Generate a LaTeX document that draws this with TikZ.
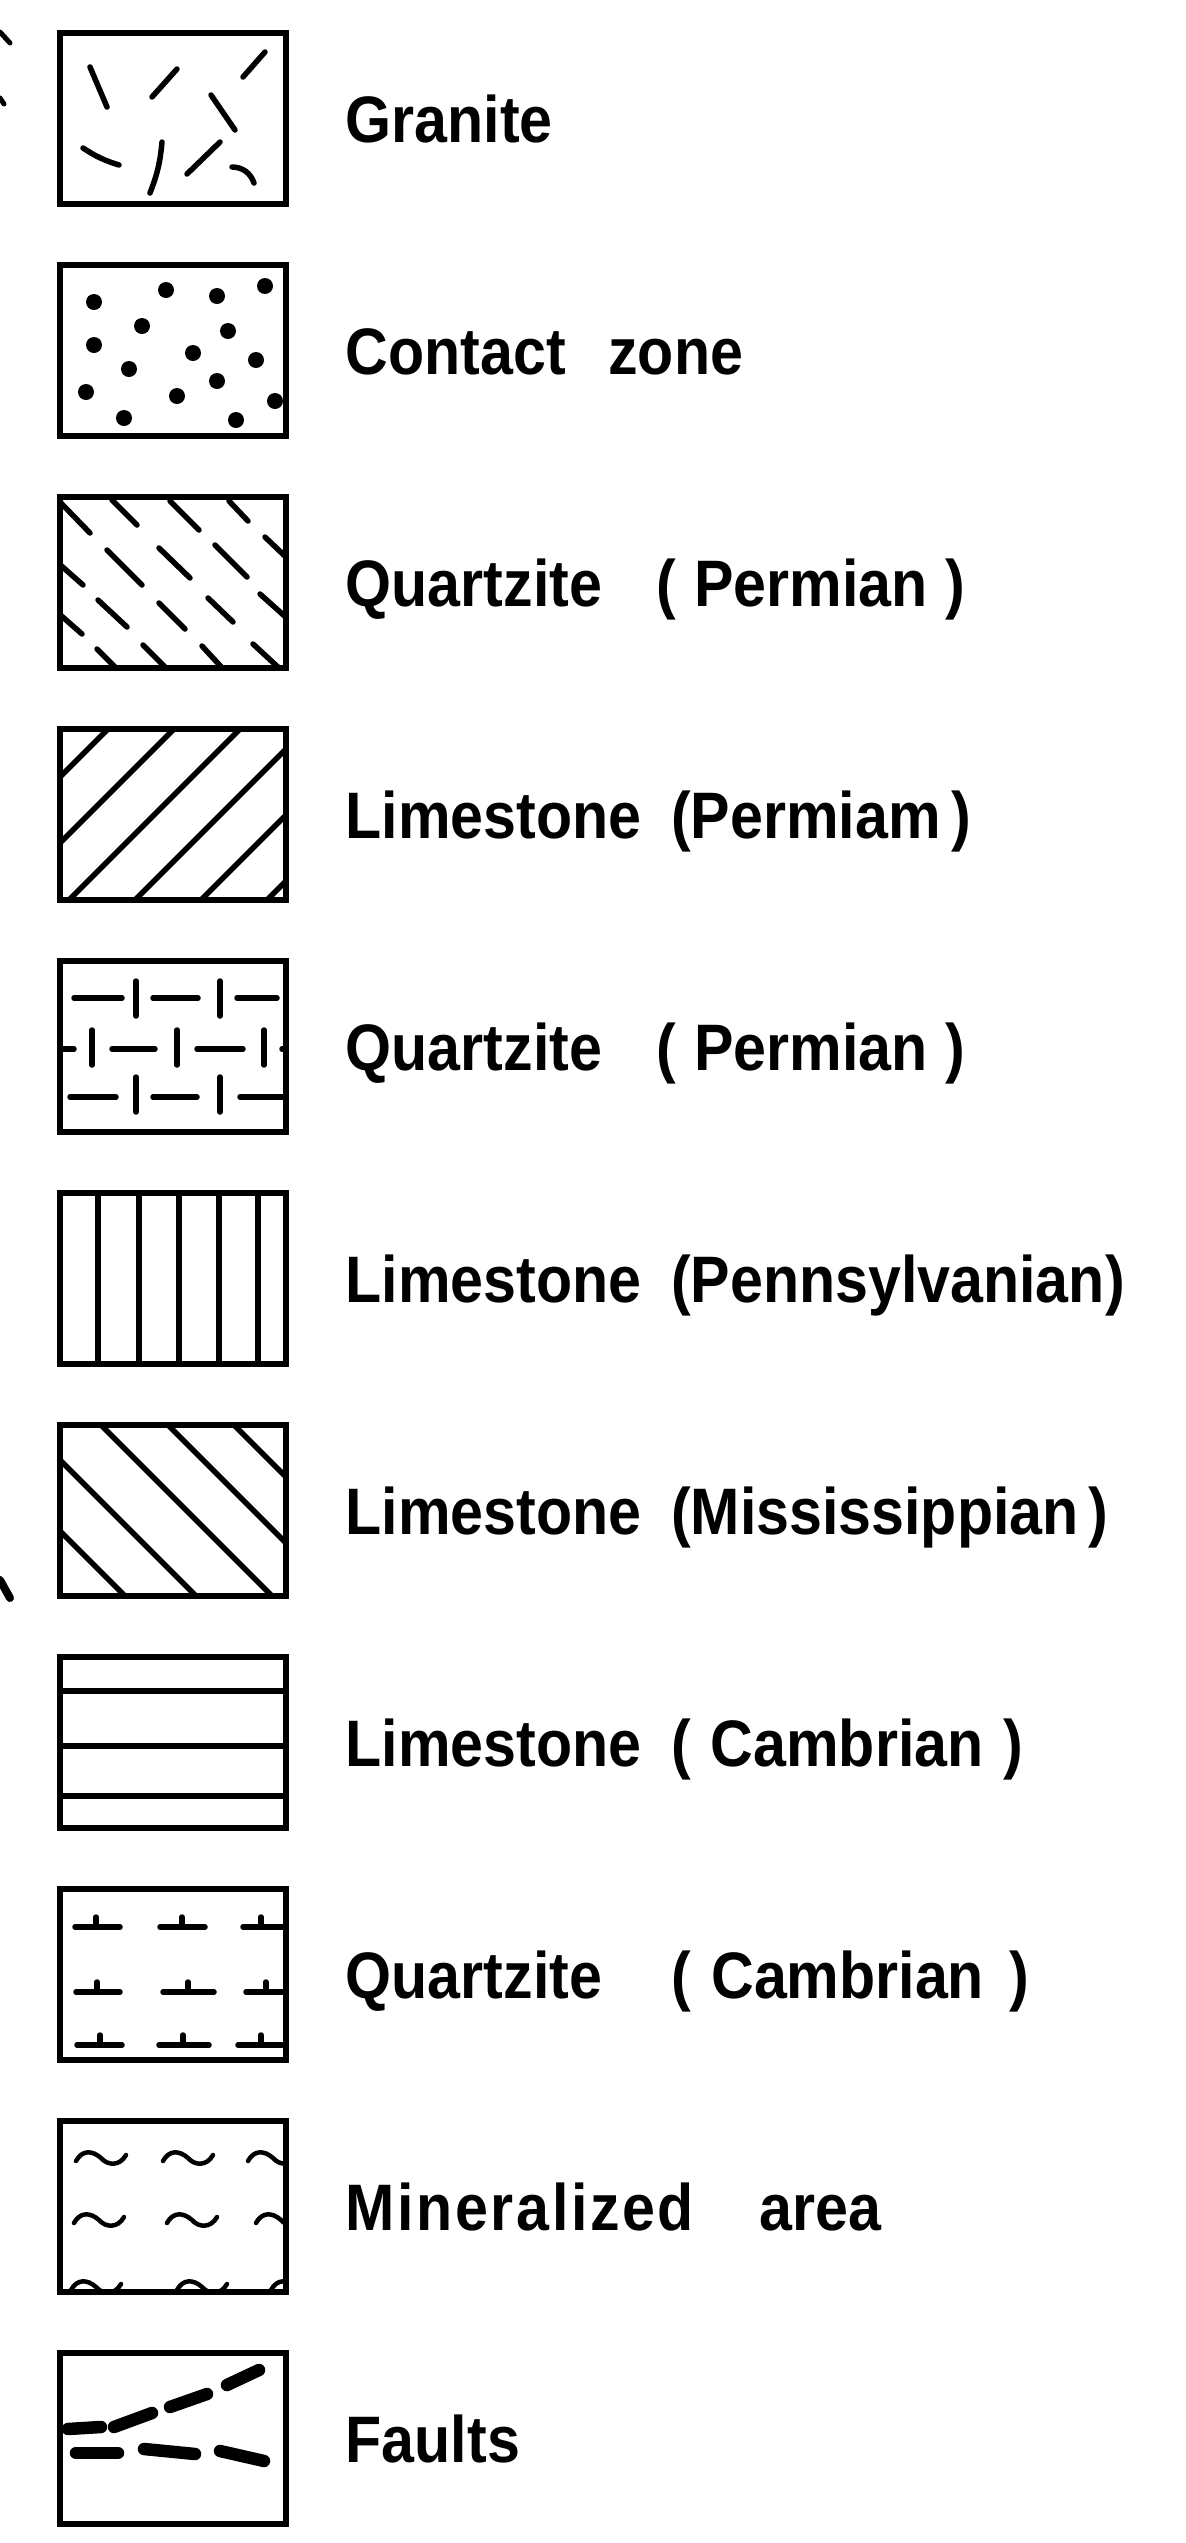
\documentclass[tikz,border=0pt]{standalone}
\usepackage{fontspec}
\setmainfont{Liberation Sans}[FakeStretch=0.9,WordSpace=1.8]
\usetikzlibrary{positioning}

\tikzset{
  swatch/.style={draw, line width=0.6mm, outer sep=0.3mm, inner sep=0pt,
    minimum width=22.6mm, minimum height=17.1mm},
  rocktext/.style={font=\fontsize{18.7pt}{20pt}\selectfont\bfseries,
    inner sep=0pt, text height=4.7mm, text depth=0pt, anchor=west},
  hatch/.style={line width=0.55mm, line cap=round},
}
\newcommand{\gap}[1]{\hspace*{#1}}

\begin{document}
\begin{tikzpicture}[x=0.1mm, y=-0.1mm]
\useasboundingbox (0,0) rectangle (1186,2543);

% swatches
\node[swatch] (b1) at (173,118.5) {};
\node[swatch, below=5.5mm of b1] (b2) {};
\node[swatch, below=5.5mm of b2] (b3) {};
\node[swatch, below=5.5mm of b3] (b4) {};
\node[swatch, below=5.5mm of b4] (b5) {};
\node[swatch, below=5.5mm of b5] (b6) {};
\node[swatch, below=5.5mm of b6] (b7) {};
\node[swatch, below=5.5mm of b7] (b8) {};
\node[swatch, below=5.5mm of b8] (b9) {};
\node[swatch, below=5.5mm of b9] (b10) {};
\node[swatch, below=5.5mm of b10] (b11) {};

% labels
\node[rocktext, right=5.6mm of b1] (t1) {Granite};
\node[rocktext, right=5.6mm of b2] (t2) {Contact\gap{1.3mm} zone};
\node[rocktext, right=5.6mm of b3] (t3) {Quartzite\gap{2.5mm} (\gap{1.8mm}Permian\gap{1.8mm})};
\node[rocktext, right=5.6mm of b4] (t4) {Limestone (Permiam\gap{1.1mm})};
\node[rocktext, right=5.6mm of b5] (t5) {Quartzite\gap{2.5mm} (\gap{1.8mm}Permian\gap{1.8mm})};
\node[rocktext, right=5.6mm of b6] (t6) {Limestone (Pennsylvanian)};
\node[rocktext, right=5.6mm of b7] (t7) {Limestone (Mississippian\gap{1mm})};
\node[rocktext, right=5.6mm of b8] (t8) {Limestone (\gap{2mm}Cambrian\gap{2mm})};
\node[rocktext, right=5.6mm of b9] (t9) {Quartzite\gap{4mm} (\gap{2mm}Cambrian\gap{2.5mm})};
\node[rocktext, right=5.6mm of b10] (t10) {{\addfontfeature{LetterSpace=4}Mineralized}\gap{3.6mm} area};
\node[rocktext, right=5.6mm of b11] (t11) {Faults};

% granite
\begin{scope}[shift={(b1.north west)}, hatch]
\draw (33,37) -- (50,77);
\draw (95,67) -- (120,39);
\draw (186,47) -- (208,22);
\draw (154,65) -- (178,100);
\draw (26,118) to[bend right=8] (62,135);
\draw (105,112) to[bend left=8] (93,163);
\draw (130,144) -- (163,112);
\draw (175,137) to[bend left=35] (197,153);
\end{scope}

% contact zone
\begin{scope}[shift={(b2.north west)}]
\foreach \p in {(37,40),(109,28),(160,34),(208,24),(85,64),(171,69),
    (37,83),(136,91),(199,98),(72,107),(160,119),(29,130),(120,134),
    (218,139),(67,156),(179,158)}
  \fill \p circle (0.8mm);
\end{scope}

% quartzite, permian
\begin{scope}[shift={(b3.north west)}, hatch]
\clip (3,3) rectangle (229,174);
\draw (1,6) -- (33,39);
\draw (55,6) -- (80,31);
\draw (113,7) -- (142,36);
\draw (172,7) -- (191,27);
\draw (208,43) -- (232,66);
\draw (50,56) -- (85,91);
\draw (102,54) -- (133,84);
\draw (158,51) -- (190,83);
\draw (0,68) -- (26,91);
\draw (203,100) -- (232,126);
\draw (41,106) -- (70,133);
\draw (102,109) -- (128,135);
\draw (151,104) -- (176,128);
\draw (0,118) -- (25,140);
\draw (40,155) -- (62,177);
\draw (86,151) -- (112,177);
\draw (145,152) -- (168,177);
\draw (196,150) -- (222,174);
\end{scope}

% limestone, permiam
\begin{scope}[shift={(b4.north west)}, hatch]
\clip (3,3) rectangle (229,174);
\foreach \c in {54,120,186,252,318,384}
  \draw (\c+60,-60) -- (-60,\c+60);
\end{scope}

% quartzite, permian (second)
\begin{scope}[shift={(b5.north west)}, hatch]
\clip (3,3) rectangle (229,174);
\foreach \a/\b in {17/65,96/141,180/220}
  \draw (\a,40) -- (\b,40);
\foreach \a/\b in {13/59,96/140,183/227}
  \draw (\a,139) -- (\b,139);
\foreach \a/\b in {-5/17,55/98,140/186,225/240}
  \draw (\a,91) -- (\b,91);
\foreach \x in {79,163} {
  \draw (\x,23) -- (\x,58);
  \draw (\x,119) -- (\x,154);
}
\foreach \x in {35,120,207}
  \draw (\x,72) -- (\x,107);
\end{scope}

% limestone, pennsylvanian
\begin{scope}[shift={(b6.north west)}, hatch]
\foreach \x in {41,82,122,162,201}
  \draw (\x,3) -- (\x,174);
\end{scope}

% limestone, mississippian
\begin{scope}[shift={(b7.north west)}, hatch]
\clip (3,3) rectangle (229,174);
\foreach \c in {106,35,-41,-108,-174}
  \draw (-60,\c-60) -- (300,\c+300);
\end{scope}

% limestone, cambrian
\begin{scope}[shift={(b8.north west)}, hatch]
\foreach \y in {37,92,142}
  \draw (3,\y) -- (229,\y);
\end{scope}

% quartzite, cambrian
\begin{scope}[shift={(b9.north west)}, hatch]
\clip (3,3) rectangle (229,174);
\foreach \a/\b/\t/\y in {18/63/39/41, 103/148/125/41, 186/226/204/41,
    19/63/40/106, 106/157/131/106, 189/232/209/106,
    20/65/43/159, 102/152/126/159, 181/225/204/159} {
  \draw (\a,\y) -- (\b,\y);
  \draw (\t,\y) -- (\t,\y-10);
}
\end{scope}

% mineralized area
\begin{scope}[shift={(b10.north west)}, line width=0.45mm, line cap=round]
\clip (3,3) rectangle (229,174);
\foreach \x/\y in {19/40,106/40,191/40,17/102,110/102,199/102,
    14/169,120/169,214/169}
  \draw (\x,\y+3) .. controls +(6,-11) and +(-9,-8) .. (\x+25,\y)
    .. controls +(7,8) and +(-6,11) .. (\x+50,\y-3);
\end{scope}

% faults
\begin{scope}[shift={(b11.north west)}, line width=1.25mm, line cap=round]
\draw (11,79) -- (44,77);
\draw (57,77) -- (95,63);
\draw (113,57) -- (150,44);
\draw (170,35) -- (202,20);
\draw (19,103) -- (61,103);
\draw (87,99) -- (138,104);
\draw (163,101) -- (207,111);
\end{scope}

% cut-off strokes at the left edge
\draw[line width=0.5mm, line cap=round] (0,32) -- (10,43);
\draw[line width=0.5mm, line cap=round] (0,98) -- (4,104);
\draw[line width=0.8mm, line cap=round] (0,1580) -- (10,1598);
\end{tikzpicture}
\end{document}
